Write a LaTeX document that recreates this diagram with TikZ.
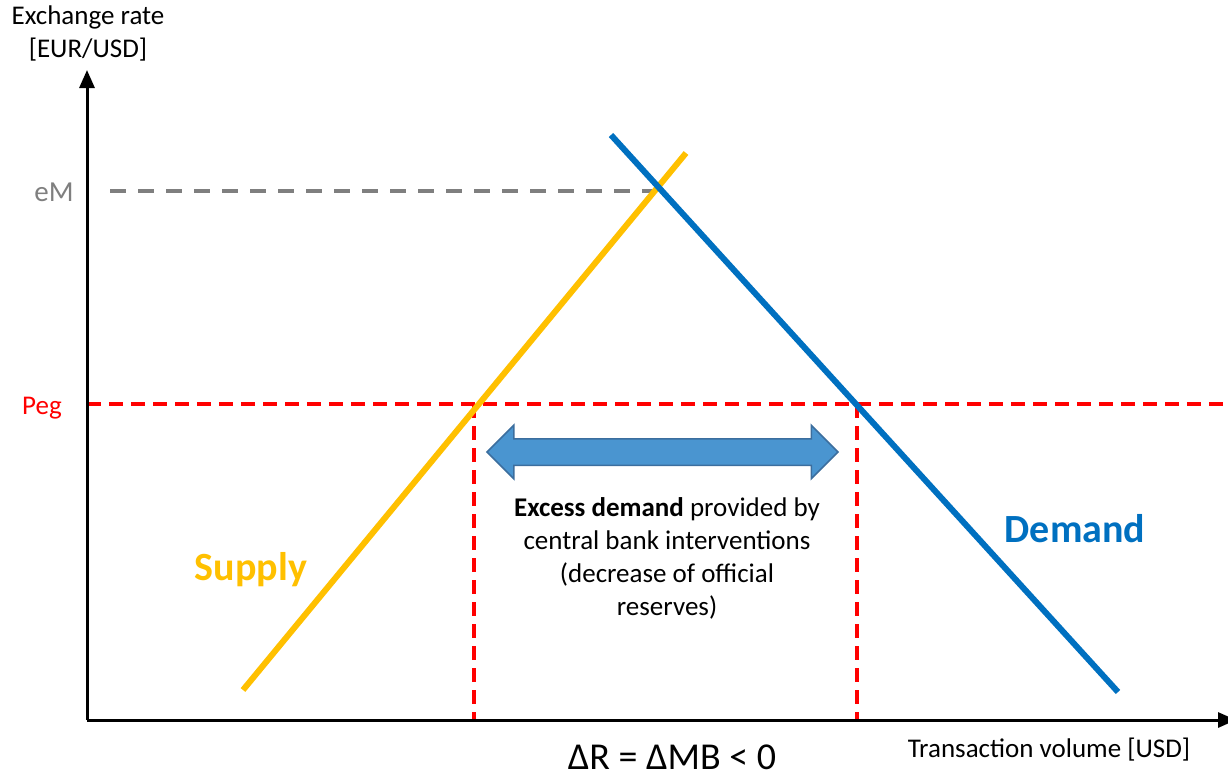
\documentclass[tikz,border=0pt]{standalone}
\usepackage{fontspec}
\setmainfont{Carlito}
\usetikzlibrary{arrows.meta,shapes.arrows}
\definecolor{supplyc}{HTML}{FFC000}
\definecolor{demandc}{HTML}{0070C0}
\definecolor{arrfill}{HTML}{4A95D0}
\definecolor{arrdraw}{HTML}{3C6E9E}
\definecolor{greyc}{HTML}{7F7F7F}
\begin{document}
\begin{tikzpicture}[x=1pt,y=-1pt,
  axis/.style={line width=3pt,-{Triangle[length=18pt,width=15pt]}},
  curve/.style={line width=6pt},
  pegline/.style={red,line width=3.5pt,dash pattern=on 14pt off 8pt},
  lbl/.style={font=\fontsize{27}{33}\selectfont,inner sep=0pt},
  big/.style={font=\fontsize{40}{46}\selectfont\bfseries,inner sep=0pt}]
\useasboundingbox (0,0) rectangle (1228,779);
% coordinates
\coordinate (O) at (87,720);
\coordinate (Ytop) at (87,70);
\coordinate (Xend) at (1236,720);
\coordinate (S1) at (243,690);
\coordinate (S2) at (686,153);
\coordinate (D1) at (611,135);
\coordinate (D2) at (1118,692);
\coordinate (eMstart) at (110,191);
\coordinate (eMend) at (655,191);
\coordinate (PegL) at (87,404);
\coordinate (PegR) at (1228,404);
\coordinate (V1t) at (474,404);
\coordinate (V1b) at (474,720);
\coordinate (V2t) at (857,404);
\coordinate (V2b) at (857,720);
% dashed lines
\draw[greyc,line width=4pt,dash pattern=on 16pt off 12pt] (eMstart) -- (eMend);
\draw[pegline] (PegL) -- (PegR);
\draw[pegline] (V1t) -- (V1b);
\draw[pegline] (V2t) -- (V2b);
% curves
\draw[curve,supplyc] (S1) -- (S2);
\draw[curve,demandc] (D1) -- (D2);
% axes
\draw[axis] (O) -- (Ytop);
\draw[axis] (O) -- (Xend);
% double arrow
\node[double arrow, draw=arrdraw, fill=arrfill, line width=1.5pt,
  inner xsep=0pt, inner ysep=12.5pt, minimum width=52pt,
  double arrow head extend=13.5pt, double arrow tip angle=90,
  minimum height=351pt]
  (dbl) at (662.5,452) {};
% labels
\node[lbl] (yl1) at (88,17) {Exchange rate};
\node[lbl] (yl2) at (88,50) {[EUR/USD]};
\node[lbl,text=greyc,font=\fontsize{29}{33}\selectfont] (eM) at (54,192) {eM};
\node[lbl,text=red] (peg) at (42,408) {Peg};
\node[big,text=supplyc] (sup) at (251,570) {Supply};
\node[big,text=demandc] (dem) at (1075,529) {Demand};
\node[lbl,align=center,font=\fontsize{27}{33}\selectfont] (txt) at (667,558)
  {\textbf{Excess demand} provided by\\central bank interventions\\(decrease of official\\reserves)};
\node[lbl] (xl) at (1049,750) {Transaction volume [USD]};
\node[lbl,font=\fontsize{38}{44}\selectfont,anchor=base] (dr) at (672,769) {ΔR = ΔMB < 0};
\end{tikzpicture}
\end{document}
